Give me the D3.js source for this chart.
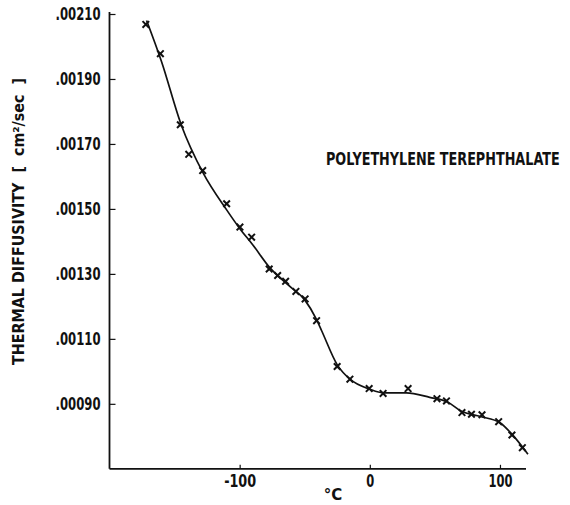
<!DOCTYPE html>
<html>
<head>
<meta charset="utf-8">
<script src="https://cdn.jsdelivr.net/npm/d3@7"></script>
<style>
  html, body { margin: 0; padding: 0; background: #fff; }
  svg { display: block; }
  text { font-family: "DejaVu Sans", "Liberation Sans", sans-serif; font-weight: bold; fill: #111; }
</style>
</head>
<body>
<svg id="chart" width="570" height="505"></svg>
<script>
// Measured thermal diffusivity (cm²/sec) vs. temperature (°C)
const tempC = [-172.1, -160.9, -145.6, -139.1, -128.4, -110.0, -99.8, -90.8, -77.3, -70.8,
               -64.7, -56.8, -49.7, -40.9, -25.1, -15.3, -0.5, 10.2, 29.4, 51.6,
               58.9, 70.8, 78.1, 86.2, 99.0, 109.2, 117.2];
const diffusivity = [0.002068, 0.001978, 0.001759, 0.001668, 0.001618, 0.001516, 0.001444, 0.001413, 0.001315, 0.001295,
                     0.001277, 0.001246, 0.001223, 0.001156, 0.001015, 0.000976, 0.000947, 0.000932, 0.000947, 0.000916,
                     0.000909, 0.000873, 0.000868, 0.000866, 0.000845, 0.000804, 0.000765];

// Smoothed fitted curve through the measurements
const curveTemp = [-171.5, -160, -145, -128, -110, -100, -90, -77, -61, -50,
                   -41, -37, -25, -15, 0, 10, 28, 46, 60, 70,
                   85, 100, 110, 121.5];
const curveDiff = [0.00208, 0.001953, 0.00176, 0.00161, 0.001497, 0.00144, 0.00139, 0.00132, 0.00126, 0.00122,
                   0.00116, 0.001125, 0.00102, 0.000975, 0.000945, 0.000934, 0.000934, 0.00092, 0.000905, 0.000878,
                   0.000861, 0.000842, 0.000803, 0.000745];

const yTicks = [0.0009, 0.0011, 0.0013, 0.0015, 0.0017, 0.0019, 0.0021];
const yTickLabels = [".00090", ".00110", ".00130", ".00150", ".00170", ".00190", ".00210"];
const xTicks = [-100, 0, 100];
const xTickLabels = ["-100", "0", "100"];

const title = "POLYETHYLENE TEREPHTHALATE";
const yLabel = "THERMAL DIFFUSIVITY  [  cm\u00B2/sec  ]";
const xLabel = "\u00B0C";

const svg = d3.select("#chart");

const x = d3.scaleLinear().domain([-200, 120]).range([109.5, 526]);
const y = d3.scaleLinear().domain([0.0007, 0.0021]).range([468.8, 14]);

// Y axis: inward ticks, labels to the left
const yAxis = d3.axisLeft(y)
  .tickValues(yTicks)
  .tickFormat((d, i) => yTickLabels[i])
  .tickSizeInner(-6)
  .tickSizeOuter(0)
  .tickPadding(9);

const gy = svg.append("g")
  .attr("transform", `translate(${x.range()[0]},0)`)
  .call(yAxis);
gy.select(".domain").attr("stroke", "#111").attr("stroke-width", 1.8)
  .attr("d", `M0,${y(0.0021) - 2}V${y.range()[0]}`);
gy.selectAll(".tick line").attr("stroke", "#111").attr("stroke-width", 1.2);
gy.selectAll(".tick text")
  .attr("font-size", 17)
  .attr("textLength", 45)
  .attr("lengthAdjust", "spacingAndGlyphs");

// X axis: short upward ticks, labels below
const xAxis = d3.axisBottom(x)
  .tickValues(xTicks)
  .tickFormat((d, i) => xTickLabels[i])
  .tickSizeInner(-4)
  .tickSizeOuter(0)
  .tickPadding(6);

const gx = svg.append("g")
  .attr("transform", `translate(0,${y.range()[0]})`)
  .call(xAxis);
gx.select(".domain").attr("stroke", "#111").attr("stroke-width", 1.8)
  .attr("d", `M${x.range()[0]},0H${x.range()[1]}`);
gx.selectAll(".tick line").attr("stroke", "#111").attr("stroke-width", 1.2);
gx.selectAll(".tick text")
  .attr("font-size", 17)
  .each(function(d, i) {
    const n = xTickLabels[i].length;
    d3.select(this).attr("textLength", n * 8).attr("lengthAdjust", "spacingAndGlyphs");
  });
svg.selectAll("g text").attr("font-family", null);

// Fitted curve
const line = d3.line()
  .x((d, i) => x(curveTemp[i]))
  .y((d, i) => y(curveDiff[i]))
  .curve(d3.curveMonotoneX);

svg.append("path")
  .datum(curveTemp)
  .attr("d", line)
  .attr("fill", "none")
  .attr("stroke", "#111")
  .attr("stroke-width", 1.7);

// Data markers
const marker = d3.symbol().type(d3.symbolX).size(30);
svg.append("g")
  .selectAll("path")
  .data(tempC)
  .join("path")
  .attr("transform", (d, i) => `translate(${x(d)},${y(diffusivity[i])})`)
  .attr("d", marker)
  .attr("fill", "none")
  .attr("stroke", "#111")
  .attr("stroke-width", 2);

// Material name, horizontally condensed to fit the space right of the curve
const titleText = svg.append("text")
  .attr("font-size", 17)
  .text(title);
const titleWidth = titleText.node().getComputedTextLength();
titleText.attr("transform", `translate(326,165) scale(${234 / titleWidth},1)`);

// Axis titles
svg.append("text")
  .attr("transform", "translate(24,365) rotate(-90)")
  .attr("font-size", 16)
  .attr("textLength", 287)
  .attr("lengthAdjust", "spacingAndGlyphs")
  .style("white-space", "pre")
  .text(yLabel);

svg.append("text")
  .attr("x", 333)
  .attr("y", 500)
  .attr("text-anchor", "middle")
  .attr("font-size", 15)
  .text(xLabel);
</script>
</body>
</html>
